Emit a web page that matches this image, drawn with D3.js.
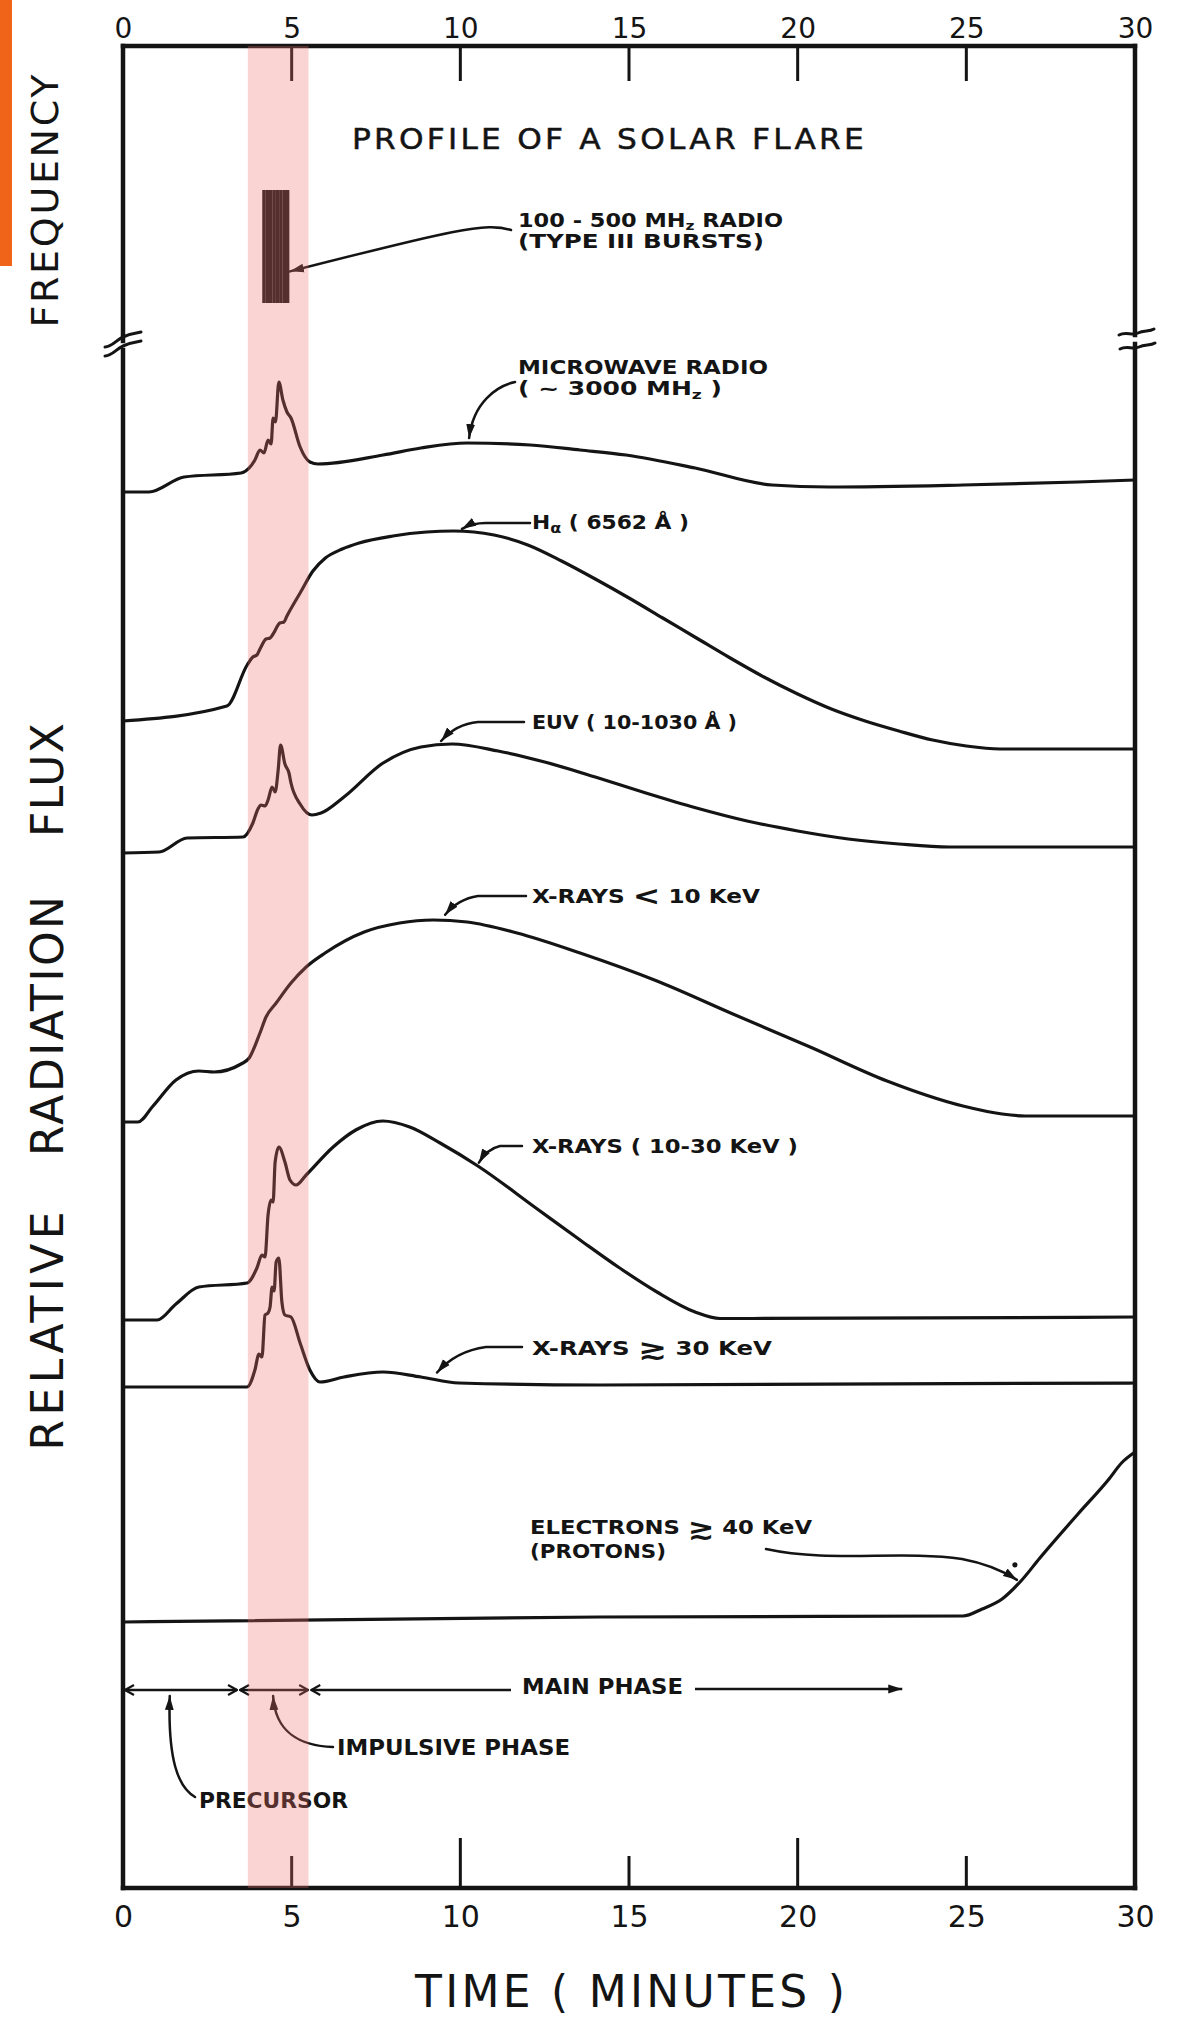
<!DOCTYPE html>
<html>
<head>
<meta charset="utf-8">
<script src="https://cdn.jsdelivr.net/npm/d3@7"></script>
<style>
html,body{margin:0;padding:0;background:#fff;}
svg{display:block;}
</style>
</head>
<body>
<svg id="chart" width="1181" height="2019"></svg>
<script>
// ================= DATA =================
const timeTicks = [0, 5, 10, 15, 20, 25, 30];
const innerTicks = [5, 10, 15, 20, 25];

// relative flux above each curve's own pre-flare level (arbitrary units)
const seriesNames   = ["MICROWAVE", "H_ALPHA", "EUV", "XRAY_SOFT", "XRAY_MID", "XRAY_HARD", "ELECTRONS"];
const seriesOffsets = [139.6, 116.7, 103.5, 76.6, 56.8, 50.1, 26.6];

const microwaveTime = [0,0.77,1.81,3.50,3.74,3.91,4.06,4.18,4.30,4.39,4.45,4.52,4.62,4.74,4.86,4.98,5.25,5.54,5.78,7.71,8.83,10.20,12.07,13.55,14.91,16.96,19.24,20.93,24.90,28.31,30];
const microwaveFlux = [0,0,1.5,1.9,2.4,3.2,4.2,3.9,5.2,4.8,7.4,7.0,11.0,9.2,8.0,7.4,4.5,3.0,2.8,3.7,4.4,4.9,4.7,4.2,3.7,2.4,0.7,0.5,0.7,1.0,1.2];

const hAlphaTime = [0,3.08,3.68,3.85,3.97,4.06,4.24,4.36,4.45,4.65,4.77,4.86,5.25,5.63,6.0,6.5,7.0,8.0,9.0,9.8,11.0,12.0,13.0,14.0,15.0,16.0,17.0,18.0,19.0,20.0,21.0,22.0,23.0,24.0,25.0,26.0,30];
const hAlphaFlux = [0,1.5,5.6,6.4,6.6,7.2,8.2,8.3,8.7,9.8,9.9,10.5,12.8,15.0,16.3,17.2,17.8,18.5,18.9,19.0,18.6,17.6,16.0,14.2,12.3,10.3,8.3,6.3,4.4,2.7,1.2,0.0,-1.0,-1.9,-2.5,-2.8,-2.8];

const euvTime = [0,1.07,1.90,3.56,3.85,4.00,4.09,4.21,4.30,4.42,4.51,4.60,4.67,4.80,4.92,4.98,5.25,5.60,5.87,6.55,7.71,8.83,9.75,11.12,12.5,14.0,15.5,17.0,18.5,20.0,21.5,23.0,24.5,30];
const euvFlux = [0,0.1,1.5,1.6,3.0,4.4,4.8,4.7,5.3,6.6,6.1,8.3,10.8,8.9,8.0,7.0,4.9,3.8,4.0,5.6,9.0,10.6,10.9,10.2,9.1,7.6,6.0,4.5,3.2,2.2,1.4,0.9,0.6,0.6];

const xraySoftTime = [0,0.44,0.89,1.57,2.25,2.70,3.50,3.74,4.06,4.24,4.54,4.98,5.43,5.99,7.15,8.2,9.2,10.2,11.68,13.55,15.83,18.08,20.37,22.65,24.90,26.06,26.74,30];
const xraySoftFlux = [0,0,1.6,4.2,5.1,5.0,5.8,6.4,8.9,10.5,11.9,13.9,15.5,16.9,19.0,19.9,20.2,20.0,18.9,16.9,14.1,10.8,7.5,4.1,1.6,0.8,0.6,0.6];

const xrayMidTime = [0,1.01,1.57,2.25,3.68,3.97,4.12,4.21,4.30,4.39,4.45,4.51,4.62,4.80,4.95,5.13,5.43,6.23,6.9,7.7,8.5,9.4,10.52,12.24,13.55,14.68,15.83,16.96,17.7,18.65,30];
const xrayMidFlux = [0,0,1.6,3.3,3.7,5.2,6.5,6.3,10.5,12.0,11.8,15.8,17.3,15.8,14.0,13.5,14.5,17.3,19.0,19.9,19.3,17.7,15.4,11.2,8.0,5.3,2.8,0.8,0.15,0.15,0.3];

const xrayHardTime = [0,3.68,3.91,4.03,4.12,4.21,4.30,4.36,4.42,4.48,4.54,4.62,4.71,4.80,4.98,5.25,5.54,5.84,6.55,7.71,8.83,9.96,14.14,30];
const xrayHardFlux = [0,0,1.7,3.3,3.0,7.2,7.4,8.0,10.0,9.6,12.5,12.9,8.5,7.2,7.0,4.4,1.7,0.5,1.0,1.5,1.0,0.4,0.2,0.4];

const electronTime = [0,14.14,24.90,25.47,26.06,26.62,27.18,28.31,29.23,29.6,30];
const electronFlux = [0,0.5,0.6,1.3,2.3,4.1,6.4,10.8,14.3,15.9,17.0];

// type III radio bursts (minutes) and their frequency range (MHz)
const burstTimes = [4.18, 4.28, 4.38, 4.48, 4.58, 4.68, 4.78, 4.88];
const burstFreq  = [100, 500];

// impulsive-phase shading and phase arrows (minutes)
const impulsiveBand = [3.70, 5.50];
const phaseNames  = ["PRECURSOR", "IMPULSIVE PHASE", "MAIN PHASE"];
const phaseStart  = [0, 3.47, 5.58];
const phaseEnd    = [3.38, 5.49, 23.1];

const seriesTimes = [microwaveTime, hAlphaTime, euvTime, xraySoftTime, xrayMidTime, xrayHardTime, electronTime];
const seriesFlux  = [microwaveFlux, hAlphaFlux, euvFlux, xraySoftFlux, xrayMidFlux, xrayHardFlux, electronFlux];

// ================= LAYOUT =================
const svg = d3.select("#chart");
const FONT = "'DejaVu Sans', 'Liberation Sans', sans-serif";
const INK = "#141414";
const L = 123, R = 1135, T = 46, B = 1888;

const x = d3.scaleLinear().domain([0, 30]).range([L, R]);
const y = d3.scaleLinear().domain([0, 184.2]).range([B, T]);
const f = d3.scaleLinear().domain(burstFreq).range([303, 190]);

svg.append("rect").attr("width", 1181).attr("height", 2019).attr("fill", "#fff");

// orange strip at the top-left edge
svg.append("rect").attr("x", 0).attr("y", 0).attr("width", 12).attr("height", 266).attr("fill", "#f0641a");

const defs = svg.append("defs");
defs.append("marker").attr("id", "headFill")
  .attr("viewBox", "0 -5 15 10").attr("refX", 14).attr("refY", 0)
  .attr("markerWidth", 15).attr("markerHeight", 10)
  .attr("markerUnits", "userSpaceOnUse").attr("orient", "auto")
  .append("path").attr("d", "M0,-4.4L14,0L0,4.4Z").attr("fill", INK);
defs.append("marker").attr("id", "chev")
  .attr("viewBox", "-1 -6 12 12").attr("refX", 10).attr("refY", 0)
  .attr("markerWidth", 12).attr("markerHeight", 12)
  .attr("markerUnits", "userSpaceOnUse").attr("orient", "auto-start-reverse")
  .append("path").attr("d", "M1,-5L10,0L1,5").attr("fill", "none")
  .attr("stroke", INK).attr("stroke-width", 2.2);

// ---------- frame (with axis breaks) ----------
const frame = svg.append("g").attr("stroke", INK).attr("stroke-width", 4.5).attr("fill", "none").attr("stroke-linecap", "square");
frame.append("line").attr("x1", L).attr("x2", R).attr("y1", T).attr("y2", T);
frame.append("line").attr("x1", L).attr("x2", R).attr("y1", B).attr("y2", B);
frame.append("line").attr("x1", L).attr("x2", L).attr("y1", T).attr("y2", 341);
frame.append("line").attr("x1", L).attr("x2", L).attr("y1", 350).attr("y2", B);
frame.append("line").attr("x1", R).attr("x2", R).attr("y1", T).attr("y2", 335);
frame.append("line").attr("x1", R).attr("x2", R).attr("y1", 344).attr("y2", B);

const brk = svg.append("g").attr("stroke", INK).attr("stroke-width", 3).attr("fill", "none").attr("stroke-linecap", "round");
brk.append("path").attr("d", "M105,347 C112,347 116,340 123,337 C130,334 135,333 141,332");
brk.append("path").attr("d", "M105,356 C112,356 116,349 123,346 C130,343 135,342 141,341");
brk.append("path").attr("d", "M1119,335 C1126,331 1132,336 1138,333 C1144,330 1149,332 1154,329");
brk.append("path").attr("d", "M1120,349 C1127,345 1133,350 1139,347 C1145,344 1150,346 1155,343");

// ---------- ticks ----------
const tk = svg.append("g").attr("stroke", INK).attr("stroke-width", 3);
tk.selectAll("line.top").data(innerTicks).join("line").attr("class", "top")
  .attr("x1", d => x(d)).attr("x2", d => x(d)).attr("y1", T).attr("y2", T + 35);
tk.selectAll("line.bot").data(innerTicks).join("line").attr("class", "bot")
  .attr("x1", d => x(d)).attr("x2", d => x(d)).attr("y1", B).attr("y2", d => B - (d % 10 === 0 ? 50 : 32));

const axTop = svg.append("g").attr("transform", `translate(0,${T})`)
  .call(d3.axisTop(x).tickValues(timeTicks).tickSize(0).tickPadding(8).tickFormat(d3.format("d")));
axTop.select(".domain").remove();
axTop.attr("font-family", FONT).attr("font-size", 28);
axTop.selectAll("text").attr("fill", INK);

const axBot = svg.append("g").attr("transform", `translate(0,${B})`)
  .call(d3.axisBottom(x).tickValues(timeTicks).tickSize(0).tickPadding(18).tickFormat(d3.format("d")));
axBot.select(".domain").remove();
axBot.attr("font-family", FONT).attr("font-size", 30);
axBot.selectAll("text").attr("fill", INK);

// ---------- axis titles ----------
function rotLabel(cx, cy, txt, size, len) {
  svg.append("text")
    .attr("transform", `translate(${cx + size * 0.365},${cy}) rotate(-90)`)
    .attr("text-anchor", "middle").attr("font-family", FONT).attr("font-size", size)
    .attr("fill", INK).attr("textLength", len).attr("lengthAdjust", "spacing")
    .text(txt);
}
rotLabel(44, 201, "FREQUENCY", 38, 253);
rotLabel(47, 780, "FLUX", 44, 114);
rotLabel(47, 1026, "RADIATION", 44, 260);
rotLabel(47, 1331, "RELATIVE", 44, 239);

svg.append("text").attr("x", 415).attr("y", 2007).attr("font-family", FONT).attr("font-size", 44)
  .attr("fill", INK).attr("textLength", 430).attr("lengthAdjust", "spacing").text("TIME ( MINUTES )");

svg.append("text").attr("x", 352).attr("y", 149).attr("font-family", FONT).attr("font-size", 29)
  .attr("letter-spacing", 3).attr("fill", INK).attr("stroke", INK).attr("stroke-width", 0.5)
  .attr("textLength", 515).attr("lengthAdjust", "spacingAndGlyphs").text("PROFILE OF A SOLAR FLARE");

// ---------- type III bursts ----------
svg.append("g").selectAll("line").data(burstTimes).join("line")
  .attr("x1", d => x(d)).attr("x2", d => x(d))
  .attr("y1", f(burstFreq[1])).attr("y2", f(burstFreq[0]))
  .attr("stroke", INK).attr("stroke-width", 3.5);

// ---------- series curves ----------
const line = d3.line().x(d => x(d[0])).y(d => y(d[1])).curve(d3.curveMonotoneX);
const seriesData = seriesNames.map((n, i) => seriesTimes[i].map((t, j) => [t, seriesFlux[i][j] + seriesOffsets[i]]));
svg.append("g").selectAll("path").data(seriesData).join("path")
  .attr("d", line).attr("fill", "none").attr("stroke", INK)
  .attr("stroke-width", 3.2).attr("stroke-linejoin", "round");

function valueAt(i, t) {
  const Ts = seriesTimes[i], Vs = seriesFlux[i];
  let j = d3.bisectRight(Ts, t);
  j = Math.max(1, Math.min(Ts.length - 1, j));
  const a = (t - Ts[j - 1]) / (Ts[j] - Ts[j - 1]);
  return Vs[j - 1] + a * (Vs[j] - Vs[j - 1]) + seriesOffsets[i];
}
function tip(i, t, lift) { return [x(t), y(valueAt(i, t)) - lift]; }

// ---------- annotation labels ----------
function label(px, py, parts, size, len) {
  const t = svg.append("text").attr("x", px).attr("y", py)
    .attr("font-family", FONT).attr("font-weight", "bold").attr("font-size", size).attr("fill", INK);
  if (len) t.attr("textLength", len).attr("lengthAdjust", "spacingAndGlyphs");
  parts.forEach(p => {
    const s = t.append("tspan").text(p.s);
    if (p.size) s.attr("font-size", p.size);
    if (p.dy) s.attr("dy", p.dy);
  });
}
label(518, 227, [{s: "100 - 500 MH"}, {s: "z", size: 13, dy: 3}, {s: " RADIO", dy: -3}], 19, 265);
label(518, 248, [{s: "(TYPE III BURSTS)"}], 19, 246);
label(518, 374, [{s: "MICROWAVE  RADIO"}], 19, 250);
label(518, 395, [{s: "( ~ 3000  MH"}, {s: "z", size: 13, dy: 4}, {s: " )", dy: -4}], 19, 204);
label(532, 529, [{s: "H"}, {s: "α", size: 14, dy: 4}, {s: " ( 6562 Å )", dy: -4}], 19, 157);
label(532, 729, [{s: "EUV ( 10-1030 Å )"}], 19, 205);
label(532, 903, [{s: "X-RAYS  "}, {s: "<", size: 27, dy: 2}, {s: "  10 KeV", dy: -2}], 19, 228);
label(532, 1153, [{s: "X-RAYS ( 10-30 KeV )"}], 19, 266);
label(532, 1355, [{s: "X-RAYS  "}, {s: "≳", size: 27, dy: 3}, {s: "  30 KeV", dy: -3}], 19, 240);
label(530, 1534, [{s: "ELECTRONS  "}, {s: "≳", size: 28, dy: 4}, {s: " 40 KeV", dy: -4}], 20, 282);
label(530, 1558, [{s: "(PROTONS)"}], 20, 136);
label(522, 1694, [{s: "MAIN  PHASE"}], 21, 161);
label(337, 1755, [{s: "IMPULSIVE  PHASE"}], 21, 233);
label(199, 1808, [{s: "PRECURSOR"}], 21, 149);

// ---------- pointer arrows ----------
const ptr = svg.append("g").attr("fill", "none").attr("stroke", INK).attr("stroke-width", 2.5)
  .attr("stroke-linecap", "round");
function arrow(d) { ptr.append("path").attr("d", d).attr("marker-end", "url(#headFill)"); }

let p;
p = [x(4.95), f(212)];
arrow(`M511,230 C486,222 452,230 ${p[0]},${p[1]}`);
p = tip(0, 10.26, 5);
arrow(`M515,382 C497,386 ${p[0] + 4},${p[1] - 36} ${p[0]},${p[1]}`);
p = tip(1, 10.05, 3);
arrow(`M530,523 L486,523 Q472,523 ${p[0]},${p[1]}`);
p = tip(2, 9.43, 4);
arrow(`M524,722 L478,722 Q456,724 ${p[0]},${p[1]}`);
p = tip(3, 9.55, 6);
arrow(`M526,896 L478,896 Q458,899 ${p[0]},${p[1]}`);
p = tip(4, 10.55, 4);
arrow(`M522,1146 L500,1146 Q487,1149 ${p[0]},${p[1]}`);
p = tip(5, 9.31, 7);
arrow(`M522,1347 L486,1347 Q456,1351 ${p[0]},${p[1]}`);
p = tip(6, 26.5, 5);
arrow(`M766,1549 C830,1563 900,1550 962,1559 Q994,1565 ${p[0]},${p[1]}`);
svg.append("circle").attr("cx", p[0] - 2).attr("cy", p[1] - 15).attr("r", 2.6).attr("fill", INK);

// ---------- phase arrows ----------
const PY = 1690;
const ph = svg.append("g").attr("stroke", INK).attr("stroke-width", 2.5).attr("fill", "none");
ph.append("line").attr("x1", x(phaseStart[0]) + 2).attr("x2", x(phaseEnd[0])).attr("y1", PY).attr("y2", PY)
  .attr("marker-start", "url(#chev)").attr("marker-end", "url(#chev)");
ph.append("line").attr("x1", x(phaseStart[1])).attr("x2", x(phaseEnd[1])).attr("y1", PY).attr("y2", PY)
  .attr("marker-start", "url(#chev)").attr("marker-end", "url(#chev)");
ph.append("line").attr("x1", x(phaseStart[2])).attr("x2", 511).attr("y1", PY).attr("y2", PY)
  .attr("marker-start", "url(#chev)");
ph.append("line").attr("x1", 695).attr("x2", x(phaseEnd[2])).attr("y1", PY - 1).attr("y2", PY - 1)
  .attr("marker-end", "url(#headFill)");

const pc = x((phaseStart[0] + phaseEnd[0]) * 0.41);
arrow(`M195,1797 C178,1787 ${pc - 2},1760 ${pc},${PY + 6}`);
const ic = x(4.45);
arrow(`M333,1747 C300,1746 ${ic + 2},1732 ${ic},${PY + 6}`);

// ---------- impulsive phase shading (translucent overlay) ----------
svg.append("rect")
  .attr("x", x(impulsiveBand[0])).attr("width", x(impulsiveBand[1]) - x(impulsiveBand[0]))
  .attr("y", T).attr("height", B - T)
  .attr("fill", "rgb(238,112,106)").attr("opacity", 0.3);
</script>
</body>
</html>
